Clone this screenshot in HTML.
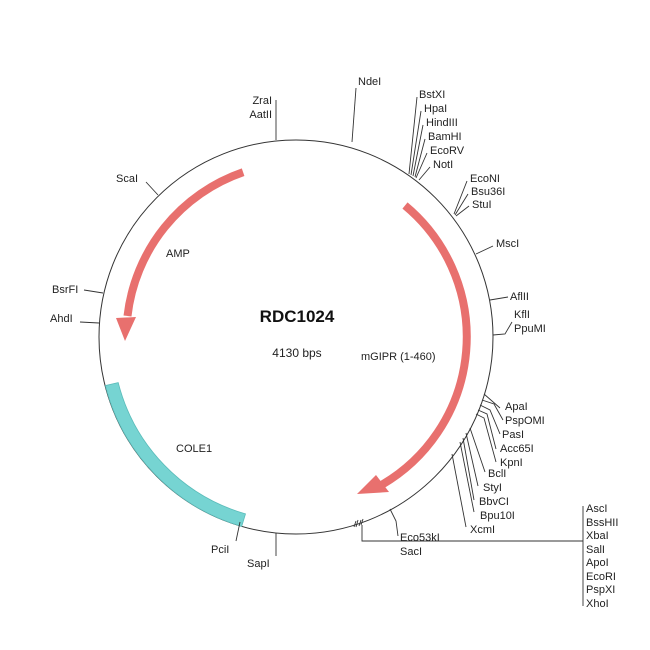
<!DOCTYPE html>
<html><head><meta charset="utf-8"><style>
html,body{margin:0;padding:0;background:#fff;}
svg{display:block;font-family:"Liberation Sans",Arial,sans-serif;}
text{font-size:11px;fill:#222;}
</style></head><body>
<svg width="650" height="650" viewBox="0 0 650 650" xmlns="http://www.w3.org/2000/svg">
<rect width="650" height="650" fill="#fff"/>
<circle cx="296" cy="337" r="197" fill="none" stroke="#333" stroke-width="1"/>
<path d="M 105.4 385.6 A 197 197 0 0 0 241.7 526.4 L 245.5 513.9 A 184 184 0 0 1 118.2 382.6 Z" fill="#76d4d2" stroke="#5bbcba" stroke-width="0.8"/>
<path d="M 243.1 172.2 A 173 173 0 0 0 127.5 316" fill="none" stroke="#e8706e" stroke-width="8"/>
<path d="M 116 318 L 136 317 L 125 341 Z" fill="#e8706e"/>
<path d="M 405 205.5 A 171 171 0 0 1 381.5 485" fill="none" stroke="#e8706e" stroke-width="8"/>
<path d="M 376 475 L 389 492 L 357 494 Z" fill="#e8706e"/>

<g stroke="#333" stroke-width="0.9" fill="none">
<path d="M352 142 L356 88"/>
<path d="M276 140 L276 100"/>
<path d="M158 195 L146 182"/>
<path d="M103 293 L84 290"/>
<path d="M99 323 L80 322"/>
<path d="M240 522 L236 541"/>
<path d="M276 533 L276 556"/>
<path d="M409 174 L417 97"/>
<path d="M411 175 L421 111"/>
<path d="M413 176 L423 125"/>
<path d="M415 177 L425 139"/>
<path d="M416 178 L427 153"/>
<path d="M419 180 L430 167"/>
<path d="M454 214 L467 181"/>
<path d="M455 215 L468 194"/>
<path d="M456 216 L469 206"/>
<path d="M476 254 L493 246"/>
<path d="M490 300 L508 297"/>
<path d="M493 335 L505 334 L512 322"/>
<path d="M484 394 L500 408"/>
<path d="M482 400 L494 404 L503 420"/>
<path d="M480 405 L490 410 L500 434"/>
<path d="M478 410 L487 414 L496 449"/>
<path d="M476 414 L484 418 L496 462"/>
<path d="M470 428 L485 472"/>
<path d="M466 433 L478 486"/>
<path d="M463 438 L474 500"/>
<path d="M460 442 L474 512"/>
<path d="M452 454 L466 527"/>
<path d="M390 509 L396 521 L398 536"/>
<path d="M354 527 L356 521"/>
<path d="M356 527 L358 520"/>
<path d="M359 526 L361 520"/>
<path d="M361 525 L363 519"/>
<path d="M362 525 L362 541 L583 541"/>
<path d="M583 506 L583 606"/>
</g>

<text x="358" y="85">NdeI</text>
<text x="272" y="104" text-anchor="end">ZraI</text>
<text x="272" y="118" text-anchor="end">AatII</text>
<text x="116" y="182">ScaI</text>
<text x="52" y="293">BsrFI</text>
<text x="50" y="322">AhdI</text>
<text x="211" y="553">PciI</text>
<text x="247" y="567">SapI</text>
<text x="419" y="98">BstXI</text>
<text x="424" y="112">HpaI</text>
<text x="426" y="126">HindIII</text>
<text x="428" y="140">BamHI</text>
<text x="430" y="154">EcoRV</text>
<text x="433" y="168">NotI</text>
<text x="470" y="182">EcoNI</text>
<text x="471" y="195">Bsu36I</text>
<text x="472" y="208">StuI</text>
<text x="496" y="247">MscI</text>
<text x="510" y="300">AflII</text>
<text x="514" y="318">KflI</text>
<text x="514" y="332">PpuMI</text>
<text x="505" y="410">ApaI</text>
<text x="505" y="424">PspOMI</text>
<text x="502" y="438">PasI</text>
<text x="500" y="452">Acc65I</text>
<text x="500" y="466">KpnI</text>
<text x="488" y="477">BclI</text>
<text x="483" y="491">StyI</text>
<text x="479" y="505">BbvCI</text>
<text x="480" y="519">Bpu10I</text>
<text x="470" y="533">XcmI</text>
<text x="400" y="541">Eco53kI</text>
<text x="400" y="555">SacI</text>
<text x="586" y="512">AscI</text>
<text x="586" y="526">BssHII</text>
<text x="586" y="539">XbaI</text>
<text x="586" y="553">SalI</text>
<text x="586" y="566">ApoI</text>
<text x="586" y="580">EcoRI</text>
<text x="586" y="593">PspXI</text>
<text x="586" y="607">XhoI</text>

<text x="297" y="322" text-anchor="middle" style="font-size:17px;font-weight:bold;fill:#111">RDC1024</text>
<text x="297" y="357" text-anchor="middle" style="font-size:12px">4130 bps</text>
<text x="166" y="257" style="font-size:11px">AMP</text>
<text x="361" y="360" style="font-size:11px">mGIPR (1-460)</text>
<text x="176" y="452" style="font-size:11px">COLE1</text>
</svg>
</body></html>
